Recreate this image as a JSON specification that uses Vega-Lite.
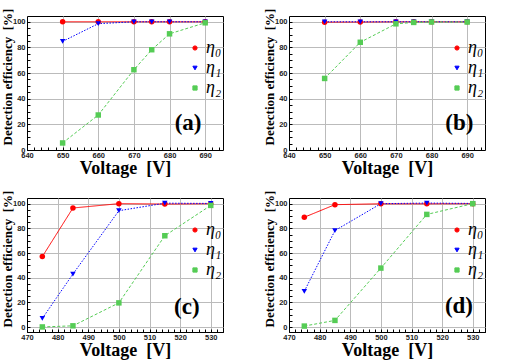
{
  "$schema": "https://vega.github.io/schema/vega-lite/v6.json",
  "padding": {"left": 0, "top": 7, "right": 0, "bottom": 0},
  "background": "white",
  "datasets": {
    "eff": [
      {"panel": "a", "series": "η₀", "voltage": 650, "eff": 100},
      {"panel": "a", "series": "η₀", "voltage": 660, "eff": 100},
      {"panel": "a", "series": "η₀", "voltage": 670, "eff": 100},
      {"panel": "a", "series": "η₀", "voltage": 675, "eff": 100},
      {"panel": "a", "series": "η₀", "voltage": 680, "eff": 100},
      {"panel": "a", "series": "η₀", "voltage": 690, "eff": 100},
      {"panel": "a", "series": "η₁", "voltage": 650, "eff": 84.7},
      {"panel": "a", "series": "η₁", "voltage": 660, "eff": 98.5},
      {"panel": "a", "series": "η₁", "voltage": 670, "eff": 100},
      {"panel": "a", "series": "η₁", "voltage": 675, "eff": 100},
      {"panel": "a", "series": "η₁", "voltage": 680, "eff": 100},
      {"panel": "a", "series": "η₁", "voltage": 690, "eff": 100},
      {"panel": "a", "series": "η₂", "voltage": 650, "eff": 5.5},
      {"panel": "a", "series": "η₂", "voltage": 660, "eff": 27.3},
      {"panel": "a", "series": "η₂", "voltage": 670, "eff": 62.6},
      {"panel": "a", "series": "η₂", "voltage": 675, "eff": 78.2},
      {"panel": "a", "series": "η₂", "voltage": 680, "eff": 90.6},
      {"panel": "a", "series": "η₂", "voltage": 690, "eff": 99.2},
      {"panel": "b", "series": "η₀", "voltage": 650, "eff": 99.7},
      {"panel": "b", "series": "η₀", "voltage": 660, "eff": 99.8},
      {"panel": "b", "series": "η₀", "voltage": 670, "eff": 100},
      {"panel": "b", "series": "η₀", "voltage": 675, "eff": 100},
      {"panel": "b", "series": "η₀", "voltage": 680, "eff": 100},
      {"panel": "b", "series": "η₀", "voltage": 690, "eff": 100},
      {"panel": "b", "series": "η₁", "voltage": 650, "eff": 100},
      {"panel": "b", "series": "η₁", "voltage": 660, "eff": 100},
      {"panel": "b", "series": "η₁", "voltage": 670, "eff": 100},
      {"panel": "b", "series": "η₁", "voltage": 675, "eff": 100},
      {"panel": "b", "series": "η₁", "voltage": 680, "eff": 100},
      {"panel": "b", "series": "η₁", "voltage": 690, "eff": 100},
      {"panel": "b", "series": "η₂", "voltage": 650, "eff": 55.8},
      {"panel": "b", "series": "η₂", "voltage": 660, "eff": 84},
      {"panel": "b", "series": "η₂", "voltage": 670, "eff": 98.4},
      {"panel": "b", "series": "η₂", "voltage": 675, "eff": 99.5},
      {"panel": "b", "series": "η₂", "voltage": 680, "eff": 99.8},
      {"panel": "b", "series": "η₂", "voltage": 690, "eff": 99.8},
      {"panel": "c", "series": "η₀", "voltage": 475, "eff": 57.1},
      {"panel": "c", "series": "η₀", "voltage": 485, "eff": 96.5},
      {"panel": "c", "series": "η₀", "voltage": 500, "eff": 100},
      {"panel": "c", "series": "η₀", "voltage": 515, "eff": 99.7},
      {"panel": "c", "series": "η₀", "voltage": 530, "eff": 100},
      {"panel": "c", "series": "η₁", "voltage": 475, "eff": 7},
      {"panel": "c", "series": "η₁", "voltage": 485, "eff": 43},
      {"panel": "c", "series": "η₁", "voltage": 500, "eff": 94.3},
      {"panel": "c", "series": "η₁", "voltage": 515, "eff": 100.4},
      {"panel": "c", "series": "η₁", "voltage": 530, "eff": 100.2},
      {"panel": "c", "series": "η₂", "voltage": 475, "eff": 0.1},
      {"panel": "c", "series": "η₂", "voltage": 485, "eff": 1},
      {"panel": "c", "series": "η₂", "voltage": 500, "eff": 19.6},
      {"panel": "c", "series": "η₂", "voltage": 515, "eff": 74},
      {"panel": "c", "series": "η₂", "voltage": 530, "eff": 98.6},
      {"panel": "d", "series": "η₀", "voltage": 475, "eff": 89},
      {"panel": "d", "series": "η₀", "voltage": 485, "eff": 99.2},
      {"panel": "d", "series": "η₀", "voltage": 500, "eff": 99.9},
      {"panel": "d", "series": "η₀", "voltage": 515, "eff": 99.9},
      {"panel": "d", "series": "η₀", "voltage": 530, "eff": 100},
      {"panel": "d", "series": "η₁", "voltage": 475, "eff": 29},
      {"panel": "d", "series": "η₁", "voltage": 485, "eff": 78.2},
      {"panel": "d", "series": "η₁", "voltage": 500, "eff": 100},
      {"panel": "d", "series": "η₁", "voltage": 515, "eff": 100.5},
      {"panel": "d", "series": "η₁", "voltage": 530, "eff": 100.2},
      {"panel": "d", "series": "η₂", "voltage": 475, "eff": 0.8},
      {"panel": "d", "series": "η₂", "voltage": 485, "eff": 5.4},
      {"panel": "d", "series": "η₂", "voltage": 500, "eff": 47.8},
      {"panel": "d", "series": "η₂", "voltage": 515, "eff": 91.3},
      {"panel": "d", "series": "η₂", "voltage": 530, "eff": 100}
    ]
  },
  "data": {"name": "eff"},
  "columns": 2,
  "bounds": "flush",
  "spacing": {"row": 48, "column": 66},
  "resolve": {
    "scale": {"x": "independent", "y": "independent"},
    "axis": {"x": "independent", "y": "independent"},
    "legend": {"color": "independent", "shape": "independent"}
  },
  "concat": [
    {
      "width": 196, "height": 134,
      "transform": [{"filter": "datum.panel === 'a'"}],
      "layer": [
        {"mark": {"type": "line", "strokeWidth": 1},
         "encoding": {
           "x": {"field": "voltage", "type": "quantitative", "scale": {"domain": [640, 695], "nice": false, "zero": false},
             "axis": {"title": "Voltage\u00a0 [V]", "tickCount": 200, "format": "d", "values": [640,642,644,646,648,650,652,654,656,658,660,662,664,666,668,670,672,674,676,678,680,682,684,686,688,690,692,694],
               "labelExpr": "datum.value % 10 === 0 ? datum.label : ''", "labelOverlap": false, "labelFlush": false,
               "gridOpacity": {"condition": {"test": "datum.value % 10 === 0", "value": 1}, "value": 0}}},
           "y": {"field": "eff", "type": "quantitative", "scale": {"domain": [0, 104.5], "nice": false},
             "axis": {"title": "Detection efficiency\u00a0 [%]", "tickCount": 200, "format": "d", "values": [0,5,10,15,20,25,30,35,40,45,50,55,60,65,70,75,80,85,90,95,100],
               "labelExpr": "datum.value % 20 === 0 ? datum.label : ''", "labelOverlap": false, "labelFlush": false,
               "gridOpacity": {"condition": {"test": "datum.value % 20 === 0", "value": 1}, "value": 0}}},
           "color": {"field": "series", "type": "nominal", "scale": {"domain": ["η₀", "η₁", "η₂"], "range": ["#ff0000", "#0000ff", "#55cc55"]}, "legend": {"title": null}},
           "strokeDash": {"field": "series", "type": "nominal", "scale": {"domain": ["η₀", "η₁", "η₂"], "range": [[1, 0], [1.5, 1.5], [3, 2]]}, "legend": null}
         }},
        {"mark": {"type": "point", "filled": true, "size": 30, "opacity": 1},
         "encoding": {
           "x": {"field": "voltage", "type": "quantitative"},
           "y": {"field": "eff", "type": "quantitative"},
           "color": {"field": "series", "type": "nominal", "legend": {"title": null}},
           "shape": {"field": "series", "type": "nominal", "scale": {"domain": ["η₀", "η₁", "η₂"], "range": ["circle", "triangle-down", "square"]}, "legend": {"title": null}}
         }},
        {"data": {"values": [{}]},
         "mark": {"type": "text", "font": "Liberation Serif", "fontWeight": "bold", "fontSize": 23, "align": "center", "baseline": "middle"},
         "encoding": {"x": {"datum": 685.2}, "y": {"datum": 21}, "text": {"value": "(a)"}}}
      ]
    },
    {
      "width": 196, "height": 134,
      "transform": [{"filter": "datum.panel === 'b'"}],
      "layer": [
        {"mark": {"type": "line", "strokeWidth": 1},
         "encoding": {
           "x": {"field": "voltage", "type": "quantitative", "scale": {"domain": [640, 695], "nice": false, "zero": false},
             "axis": {"title": "Voltage\u00a0 [V]", "tickCount": 200, "format": "d", "values": [640,642,644,646,648,650,652,654,656,658,660,662,664,666,668,670,672,674,676,678,680,682,684,686,688,690,692,694],
               "labelExpr": "datum.value % 10 === 0 ? datum.label : ''", "labelOverlap": false, "labelFlush": false,
               "gridOpacity": {"condition": {"test": "datum.value % 10 === 0", "value": 1}, "value": 0}}},
           "y": {"field": "eff", "type": "quantitative", "scale": {"domain": [0, 104.5], "nice": false},
             "axis": {"title": "Detection efficiency\u00a0 [%]", "tickCount": 200, "format": "d", "values": [0,5,10,15,20,25,30,35,40,45,50,55,60,65,70,75,80,85,90,95,100],
               "labelExpr": "datum.value % 20 === 0 ? datum.label : ''", "labelOverlap": false, "labelFlush": false,
               "gridOpacity": {"condition": {"test": "datum.value % 20 === 0", "value": 1}, "value": 0}}},
           "color": {"field": "series", "type": "nominal", "scale": {"domain": ["η₀", "η₁", "η₂"], "range": ["#ff0000", "#0000ff", "#55cc55"]}, "legend": {"title": null}},
           "strokeDash": {"field": "series", "type": "nominal", "scale": {"domain": ["η₀", "η₁", "η₂"], "range": [[1, 0], [1.5, 1.5], [3, 2]]}, "legend": null}
         }},
        {"mark": {"type": "point", "filled": true, "size": 30, "opacity": 1},
         "encoding": {
           "x": {"field": "voltage", "type": "quantitative"},
           "y": {"field": "eff", "type": "quantitative"},
           "color": {"field": "series", "type": "nominal", "legend": {"title": null}},
           "shape": {"field": "series", "type": "nominal", "scale": {"domain": ["η₀", "η₁", "η₂"], "range": ["circle", "triangle-down", "square"]}, "legend": {"title": null}}
         }},
        {"data": {"values": [{}]},
         "mark": {"type": "text", "font": "Liberation Serif", "fontWeight": "bold", "fontSize": 23, "align": "center", "baseline": "middle"},
         "encoding": {"x": {"datum": 687.8}, "y": {"datum": 21}, "text": {"value": "(b)"}}}
      ]
    },
    {
      "width": 196, "height": 134,
      "transform": [{"filter": "datum.panel === 'c'"}],
      "layer": [
        {"mark": {"type": "line", "strokeWidth": 1},
         "encoding": {
           "x": {"field": "voltage", "type": "quantitative", "scale": {"domain": [470, 534], "nice": false, "zero": false},
             "axis": {"title": "Voltage\u00a0 [V]", "tickCount": 200, "format": "d", "values": [470,472,474,476,478,480,482,484,486,488,490,492,494,496,498,500,502,504,506,508,510,512,514,516,518,520,522,524,526,528,530,532,534],
               "labelExpr": "datum.value % 10 === 0 ? datum.label : ''", "labelOverlap": false, "labelFlush": false,
               "gridOpacity": {"condition": {"test": "datum.value % 10 === 0", "value": 1}, "value": 0}}},
           "y": {"field": "eff", "type": "quantitative", "scale": {"domain": [-4, 104.6], "nice": false, "zero": false},
             "axis": {"title": "Detection efficiency\u00a0 [%]", "tickCount": 200, "format": "d", "values": [0,5,10,15,20,25,30,35,40,45,50,55,60,65,70,75,80,85,90,95,100],
               "labelExpr": "datum.value % 20 === 0 ? datum.label : ''", "labelOverlap": false, "labelFlush": false,
               "gridOpacity": {"condition": {"test": "datum.value % 20 === 0", "value": 1}, "value": 0}}},
           "color": {"field": "series", "type": "nominal", "scale": {"domain": ["η₀", "η₁", "η₂"], "range": ["#ff0000", "#0000ff", "#55cc55"]}, "legend": {"title": null}},
           "strokeDash": {"field": "series", "type": "nominal", "scale": {"domain": ["η₀", "η₁", "η₂"], "range": [[1, 0], [1.5, 1.5], [3, 2]]}, "legend": null}
         }},
        {"mark": {"type": "point", "filled": true, "size": 30, "opacity": 1},
         "encoding": {
           "x": {"field": "voltage", "type": "quantitative"},
           "y": {"field": "eff", "type": "quantitative"},
           "color": {"field": "series", "type": "nominal", "legend": {"title": null}},
           "shape": {"field": "series", "type": "nominal", "scale": {"domain": ["η₀", "η₁", "η₂"], "range": ["circle", "triangle-down", "square"]}, "legend": {"title": null}}
         }},
        {"data": {"values": [{}]},
         "mark": {"type": "text", "font": "Liberation Serif", "fontWeight": "bold", "fontSize": 23, "align": "center", "baseline": "middle"},
         "encoding": {"x": {"datum": 522.2}, "y": {"datum": 16.5}, "text": {"value": "(c)"}}}
      ]
    },
    {
      "width": 196, "height": 134,
      "transform": [{"filter": "datum.panel === 'd'"}],
      "layer": [
        {"mark": {"type": "line", "strokeWidth": 1},
         "encoding": {
           "x": {"field": "voltage", "type": "quantitative", "scale": {"domain": [470, 534], "nice": false, "zero": false},
             "axis": {"title": "Voltage\u00a0 [V]", "tickCount": 200, "format": "d", "values": [470,472,474,476,478,480,482,484,486,488,490,492,494,496,498,500,502,504,506,508,510,512,514,516,518,520,522,524,526,528,530,532,534],
               "labelExpr": "datum.value % 10 === 0 ? datum.label : ''", "labelOverlap": false, "labelFlush": false,
               "gridOpacity": {"condition": {"test": "datum.value % 10 === 0", "value": 1}, "value": 0}}},
           "y": {"field": "eff", "type": "quantitative", "scale": {"domain": [-4, 104.6], "nice": false, "zero": false},
             "axis": {"title": "Detection efficiency\u00a0 [%]", "tickCount": 200, "format": "d", "values": [0,5,10,15,20,25,30,35,40,45,50,55,60,65,70,75,80,85,90,95,100],
               "labelExpr": "datum.value % 20 === 0 ? datum.label : ''", "labelOverlap": false, "labelFlush": false,
               "gridOpacity": {"condition": {"test": "datum.value % 20 === 0", "value": 1}, "value": 0}}},
           "color": {"field": "series", "type": "nominal", "scale": {"domain": ["η₀", "η₁", "η₂"], "range": ["#ff0000", "#0000ff", "#55cc55"]}, "legend": {"title": null}},
           "strokeDash": {"field": "series", "type": "nominal", "scale": {"domain": ["η₀", "η₁", "η₂"], "range": [[1, 0], [1.5, 1.5], [3, 2]]}, "legend": null}
         }},
        {"mark": {"type": "point", "filled": true, "size": 30, "opacity": 1},
         "encoding": {
           "x": {"field": "voltage", "type": "quantitative"},
           "y": {"field": "eff", "type": "quantitative"},
           "color": {"field": "series", "type": "nominal", "legend": {"title": null}},
           "shape": {"field": "series", "type": "nominal", "scale": {"domain": ["η₀", "η₁", "η₂"], "range": ["circle", "triangle-down", "square"]}, "legend": {"title": null}}
         }},
        {"data": {"values": [{}]},
         "mark": {"type": "text", "font": "Liberation Serif", "fontWeight": "bold", "fontSize": 23, "align": "center", "baseline": "middle"},
         "encoding": {"x": {"datum": 525.5}, "y": {"datum": 17}, "text": {"value": "(d)"}}}
      ]
    }
  ],
  "config": {
    "view": {"stroke": "#000000", "strokeWidth": 1},
    "axis": {
      "domainColor": "#000000", "domainWidth": 1,
      "tickColor": "#000000", "tickWidth": 1, "tickSize": -3,
      "gridColor": "#bbbbbb", "gridWidth": 1,
      "labelFont": "Liberation Sans", "labelFontSize": 7.5, "labelFontWeight": "bold", "labelColor": "#222222",
      "labelPadding": 5,
      "titleFont": "Liberation Serif", "titleFontWeight": "bold", "titleColor": "#000000"
    },
    "axisX": {"titleFontSize": 18, "titlePadding": 1, "labelPadding": 4},
    "axisY": {"titleFontSize": 13, "titlePadding": -2, "titleY": 60.5},
    "legend": {
      "orient": "none", "legendX": 159, "legendY": 23, "padding": 0,
      "labelFont": "Liberation Serif", "labelFontSize": 18, "labelFontStyle": "italic", "labelColor": "#000000",
      "symbolSize": 18, "rowPadding": 2, "labelOffset": 2, "symbolStrokeWidth": 1
    }
  }
}
